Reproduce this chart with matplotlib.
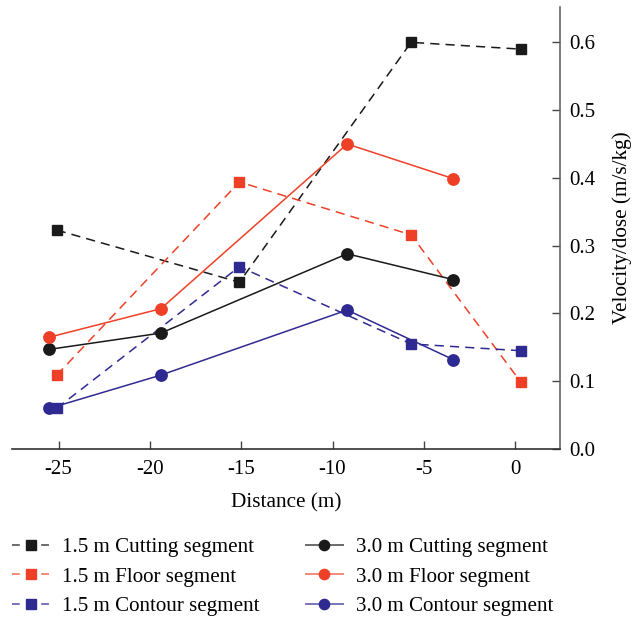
import matplotlib
matplotlib.use("Agg")
import matplotlib.pyplot as plt
from matplotlib.lines import Line2D

plt.rcParams['font.family'] = ['Liberation Serif', 'DejaVu Serif']

# Data
x_15 = [-25.1, -15.1, -5.7, 0.3]
x_30 = [-25.5, -19.4, -9.2, -3.4]
cut_15 = [0.323, 0.246, 0.600, 0.590]
floor_15 = [0.109, 0.394, 0.316, 0.099]
contour_15 = [0.060, 0.269, 0.155, 0.145]
cut_30 = [0.147, 0.171, 0.288, 0.250]
floor_30 = [0.165, 0.207, 0.450, 0.399]
contour_30 = [0.060, 0.109, 0.205, 0.132]

labels = ["1.5 m Cutting segment", "1.5 m Floor segment", "1.5 m Contour segment",
          "3.0 m Cutting segment", "3.0 m Floor segment", "3.0 m Contour segment"]
xticks = [-25, -20, -15, -10, -5, 0]
yticks = [0.0, 0.1, 0.2, 0.3, 0.4, 0.5, 0.6]

BLACK = "#1a1a1a"
RED = "#ee4027"
BLUE = "#2f2a92"
LIGHT = {BLACK: "#6a6a6a", RED: "#f28a78", BLUE: "#7a74b8"}

fig = plt.figure(figsize=(6.32, 6.18), dpi=100)
ax = fig.add_axes([0.019, 0.2735, 0.867, 0.715])

lw = 1.1
dash = (0, (6, 4))
sq = 7.3
ci = 8.2
series = [
    (x_15, cut_15, BLACK, dash, 's', sq),
    (x_15, floor_15, RED, dash, 's', sq),
    (x_15, contour_15, BLUE, dash, 's', sq),
    (x_30, cut_30, BLACK, '-', 'o', ci),
    (x_30, floor_30, RED, '-', 'o', ci),
    (x_30, contour_30, BLUE, '-', 'o', ci),
]
handles = []
for (xs, ys, c, ls, m, ms), lab in zip(series, labels):
    ax.plot(xs, ys, color=c, ls=ls, lw=lw, marker=m, ms=ms)
    hls = (0, (4, 3.5)) if ls != '-' else '-'
    handles.append(Line2D([], [], color=LIGHT[c], ls=hls, lw=1.4, marker=m,
                          ms=ms * 0.9, markerfacecolor=c, markeredgecolor=c,
                          label=lab))

ax.set_xlim(-27.55, 2.45)
ax.set_ylim(0, 0.652)
ax.set_xticks(xticks)
ax.set_xticklabels([f"{t:d}" for t in xticks])
ax.set_yticks(yticks)
ax.set_yticklabels([f"{t:.1f}" for t in yticks])

ax.spines['top'].set_visible(False)
ax.spines['left'].set_visible(False)
ax.spines['bottom'].set_color('#333333')
ax.spines['right'].set_color('#666666')
for s in ['bottom', 'right']:
    ax.spines[s].set_linewidth(1.2)
ax.yaxis.tick_right()
ax.yaxis.set_label_position('right')
ax.tick_params(axis='both', direction='in', length=5.8, width=1.0, color='#444444',
               labelsize=15, pad=7)
ax.tick_params(axis='x', pad=8)
ax.set_xlabel("Distance (m)", fontsize=15.3, labelpad=10)
ax.set_ylabel("Velocity/dose (m/s/kg)", fontsize=15.3, labelpad=12)

fig.legend(handles=handles, loc='upper left', bbox_to_anchor=(0.006, 0.144), ncol=2,
           frameon=False, fontsize=15.1, handlelength=1.75, handletextpad=0.64,
           columnspacing=2.2, labelspacing=0.47, borderaxespad=0)

fig.savefig("out.png", dpi=100)
